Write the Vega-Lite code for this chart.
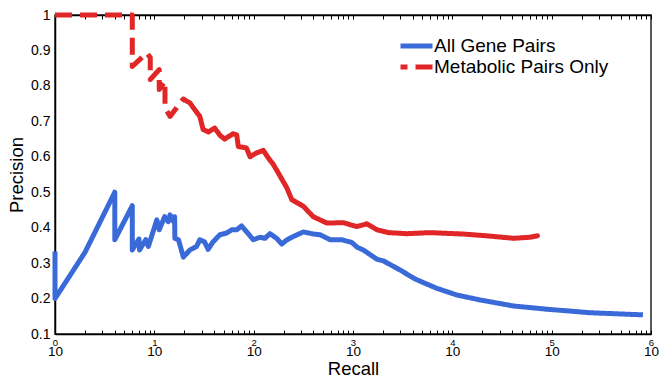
{
  "$schema": "https://vega.github.io/schema/vega-lite/v6.json",
  "autosize": "none",
  "width": 596,
  "height": 319,
  "padding": {"left": 55, "top": 15, "right": 9, "bottom": 43},
  "background": "white",
  "config": {
    "font": "Liberation Sans",
    "view": {"stroke": "#222", "strokeWidth": 1.5},
    "axis": {"labelFont": "Liberation Sans", "titleFont": "Liberation Sans", "labelColor": "#000", "titleColor": "#000", "domainColor": "#000", "tickColor": "#000", "titleFontWeight": "normal", "grid": false}
  },
  "data": {"values": [
    {"series": "All Gene Pairs", "i": 0, "recall": 1, "precision": 0.333},
    {"series": "All Gene Pairs", "i": 1, "recall": 1, "precision": 0.2},
    {"series": "All Gene Pairs", "i": 2, "recall": 2, "precision": 0.33},
    {"series": "All Gene Pairs", "i": 3, "recall": 4, "precision": 0.5},
    {"series": "All Gene Pairs", "i": 4, "recall": 4, "precision": 0.366},
    {"series": "All Gene Pairs", "i": 5, "recall": 6, "precision": 0.462},
    {"series": "All Gene Pairs", "i": 6, "recall": 6, "precision": 0.337},
    {"series": "All Gene Pairs", "i": 7, "recall": 7, "precision": 0.368},
    {"series": "All Gene Pairs", "i": 8, "recall": 7.1, "precision": 0.337},
    {"series": "All Gene Pairs", "i": 9, "recall": 8.2, "precision": 0.366},
    {"series": "All Gene Pairs", "i": 10, "recall": 8.7, "precision": 0.347},
    {"series": "All Gene Pairs", "i": 11, "recall": 10.6, "precision": 0.422},
    {"series": "All Gene Pairs", "i": 12, "recall": 11.2, "precision": 0.394},
    {"series": "All Gene Pairs", "i": 13, "recall": 12.7, "precision": 0.431},
    {"series": "All Gene Pairs", "i": 14, "recall": 13.8, "precision": 0.417},
    {"series": "All Gene Pairs", "i": 15, "recall": 14.4, "precision": 0.436},
    {"series": "All Gene Pairs", "i": 16, "recall": 15.6, "precision": 0.417},
    {"series": "All Gene Pairs", "i": 17, "recall": 16, "precision": 0.431},
    {"series": "All Gene Pairs", "i": 18, "recall": 16.1, "precision": 0.37},
    {"series": "All Gene Pairs", "i": 19, "recall": 17.5, "precision": 0.366},
    {"series": "All Gene Pairs", "i": 20, "recall": 19.6, "precision": 0.317},
    {"series": "All Gene Pairs", "i": 21, "recall": 22.8, "precision": 0.337},
    {"series": "All Gene Pairs", "i": 22, "recall": 26.6, "precision": 0.347},
    {"series": "All Gene Pairs", "i": 23, "recall": 28.7, "precision": 0.366},
    {"series": "All Gene Pairs", "i": 24, "recall": 32, "precision": 0.36},
    {"series": "All Gene Pairs", "i": 25, "recall": 34.8, "precision": 0.339},
    {"series": "All Gene Pairs", "i": 26, "recall": 39, "precision": 0.36},
    {"series": "All Gene Pairs", "i": 27, "recall": 45.7, "precision": 0.38},
    {"series": "All Gene Pairs", "i": 28, "recall": 53.5, "precision": 0.385},
    {"series": "All Gene Pairs", "i": 29, "recall": 60, "precision": 0.394},
    {"series": "All Gene Pairs", "i": 30, "recall": 67.5, "precision": 0.394},
    {"series": "All Gene Pairs", "i": 31, "recall": 75.5, "precision": 0.405},
    {"series": "All Gene Pairs", "i": 32, "recall": 84.5, "precision": 0.389},
    {"series": "All Gene Pairs", "i": 33, "recall": 99, "precision": 0.366},
    {"series": "All Gene Pairs", "i": 34, "recall": 116, "precision": 0.373},
    {"series": "All Gene Pairs", "i": 35, "recall": 130, "precision": 0.37},
    {"series": "All Gene Pairs", "i": 36, "recall": 146, "precision": 0.383},
    {"series": "All Gene Pairs", "i": 37, "recall": 170, "precision": 0.37},
    {"series": "All Gene Pairs", "i": 38, "recall": 192, "precision": 0.354},
    {"series": "All Gene Pairs", "i": 39, "recall": 215, "precision": 0.365},
    {"series": "All Gene Pairs", "i": 40, "recall": 242, "precision": 0.373},
    {"series": "All Gene Pairs", "i": 41, "recall": 317, "precision": 0.388},
    {"series": "All Gene Pairs", "i": 42, "recall": 400, "precision": 0.382},
    {"series": "All Gene Pairs", "i": 43, "recall": 467, "precision": 0.38},
    {"series": "All Gene Pairs", "i": 44, "recall": 588, "precision": 0.366},
    {"series": "All Gene Pairs", "i": 45, "recall": 773, "precision": 0.366},
    {"series": "All Gene Pairs", "i": 46, "recall": 975, "precision": 0.358},
    {"series": "All Gene Pairs", "i": 47, "recall": 1100, "precision": 0.345},
    {"series": "All Gene Pairs", "i": 48, "recall": 1270, "precision": 0.337},
    {"series": "All Gene Pairs", "i": 49, "recall": 1740, "precision": 0.311},
    {"series": "All Gene Pairs", "i": 50, "recall": 2030, "precision": 0.306},
    {"series": "All Gene Pairs", "i": 51, "recall": 2960, "precision": 0.281},
    {"series": "All Gene Pairs", "i": 52, "recall": 4230, "precision": 0.255},
    {"series": "All Gene Pairs", "i": 53, "recall": 6960, "precision": 0.229},
    {"series": "All Gene Pairs", "i": 54, "recall": 11100, "precision": 0.21},
    {"series": "All Gene Pairs", "i": 55, "recall": 19100, "precision": 0.196},
    {"series": "All Gene Pairs", "i": 56, "recall": 41300, "precision": 0.179},
    {"series": "All Gene Pairs", "i": 57, "recall": 89100, "precision": 0.17},
    {"series": "All Gene Pairs", "i": 58, "recall": 244000, "precision": 0.16},
    {"series": "All Gene Pairs", "i": 59, "recall": 830000, "precision": 0.154},
    {"series": "Metabolic Pairs Only", "i": 0, "recall": 1, "precision": 1},
    {"series": "Metabolic Pairs Only", "i": 1, "recall": 6, "precision": 1},
    {"series": "Metabolic Pairs Only", "i": 2, "recall": 6, "precision": 0.855},
    {"series": "Metabolic Pairs Only", "i": 3, "recall": 8.4, "precision": 0.893},
    {"series": "Metabolic Pairs Only", "i": 4, "recall": 9.1, "precision": 0.88},
    {"series": "Metabolic Pairs Only", "i": 5, "recall": 9.1, "precision": 0.818},
    {"series": "Metabolic Pairs Only", "i": 6, "recall": 11.2, "precision": 0.846},
    {"series": "Metabolic Pairs Only", "i": 7, "recall": 11.2, "precision": 0.79},
    {"series": "Metabolic Pairs Only", "i": 8, "recall": 12.8, "precision": 0.813},
    {"series": "Metabolic Pairs Only", "i": 9, "recall": 12.8, "precision": 0.738},
    {"series": "Metabolic Pairs Only", "i": 10, "recall": 14.4, "precision": 0.714},
    {"series": "Metabolic Pairs Only", "i": 11, "recall": 19.6, "precision": 0.763},
    {"series": "Metabolic Pairs Only", "i": 12, "recall": 22.8, "precision": 0.752},
    {"series": "Metabolic Pairs Only", "i": 13, "recall": 25.5, "precision": 0.733},
    {"series": "Metabolic Pairs Only", "i": 14, "recall": 28.7, "precision": 0.714},
    {"series": "Metabolic Pairs Only", "i": 15, "recall": 31, "precision": 0.677},
    {"series": "Metabolic Pairs Only", "i": 16, "recall": 35, "precision": 0.67},
    {"series": "Metabolic Pairs Only", "i": 17, "recall": 40.5, "precision": 0.681},
    {"series": "Metabolic Pairs Only", "i": 18, "recall": 46, "precision": 0.66},
    {"series": "Metabolic Pairs Only", "i": 19, "recall": 51, "precision": 0.65},
    {"series": "Metabolic Pairs Only", "i": 20, "recall": 62, "precision": 0.665},
    {"series": "Metabolic Pairs Only", "i": 21, "recall": 67.5, "precision": 0.662},
    {"series": "Metabolic Pairs Only", "i": 22, "recall": 70, "precision": 0.629},
    {"series": "Metabolic Pairs Only", "i": 23, "recall": 84.5, "precision": 0.625},
    {"series": "Metabolic Pairs Only", "i": 24, "recall": 92, "precision": 0.6},
    {"series": "Metabolic Pairs Only", "i": 25, "recall": 107, "precision": 0.611},
    {"series": "Metabolic Pairs Only", "i": 26, "recall": 125, "precision": 0.618},
    {"series": "Metabolic Pairs Only", "i": 27, "recall": 141, "precision": 0.596},
    {"series": "Metabolic Pairs Only", "i": 28, "recall": 158, "precision": 0.578},
    {"series": "Metabolic Pairs Only", "i": 29, "recall": 185, "precision": 0.545},
    {"series": "Metabolic Pairs Only", "i": 30, "recall": 216, "precision": 0.512},
    {"series": "Metabolic Pairs Only", "i": 31, "recall": 242, "precision": 0.479},
    {"series": "Metabolic Pairs Only", "i": 32, "recall": 317, "precision": 0.46},
    {"series": "Metabolic Pairs Only", "i": 33, "recall": 398, "precision": 0.431},
    {"series": "Metabolic Pairs Only", "i": 34, "recall": 546, "precision": 0.413},
    {"series": "Metabolic Pairs Only", "i": 35, "recall": 800, "precision": 0.414},
    {"series": "Metabolic Pairs Only", "i": 36, "recall": 1090, "precision": 0.403},
    {"series": "Metabolic Pairs Only", "i": 37, "recall": 1380, "precision": 0.411},
    {"series": "Metabolic Pairs Only", "i": 38, "recall": 1740, "precision": 0.394},
    {"series": "Metabolic Pairs Only", "i": 39, "recall": 2280, "precision": 0.386},
    {"series": "Metabolic Pairs Only", "i": 40, "recall": 3470, "precision": 0.383},
    {"series": "Metabolic Pairs Only", "i": 41, "recall": 5990, "precision": 0.386},
    {"series": "Metabolic Pairs Only", "i": 42, "recall": 12900, "precision": 0.382},
    {"series": "Metabolic Pairs Only", "i": 43, "recall": 22200, "precision": 0.377},
    {"series": "Metabolic Pairs Only", "i": 44, "recall": 41300, "precision": 0.37},
    {"series": "Metabolic Pairs Only", "i": 45, "recall": 60700, "precision": 0.373},
    {"series": "Metabolic Pairs Only", "i": 46, "recall": 71900, "precision": 0.377}
  ]},
  "encoding": {
    "y": {
      "field": "precision", "type": "quantitative",
      "scale": {"domain": [0.1, 1], "nice": false, "zero": false},
      "axis": {"title": "Precision", "values": [0.1,0.2,0.3,0.4,0.5,0.6,0.7,0.8,0.9,1], "labelExpr": "datum.value >= 0.999 ? '1' : format(datum.value, '.1f')", "ticks": false, "labelFontSize": 14, "titleFontSize": 18.5, "titlePadding": 4, "labelPadding": 5, "domainWidth": 1.5}
    },
    "color": {"field": "series", "type": "nominal",
      "scale": {"domain": ["All Gene Pairs", "Metabolic Pairs Only"], "range": ["#3a6ad8", "#e02626"]},
      "legend": {"title": null, "orient": "none", "legendX": 351, "legendY": 20.5, "symbolType": "M-2,0H2", "symbolSize": 256, "symbolStrokeWidth": 5, "symbolDashOffset": 10, "labelFontSize": 19, "labelFont": "Liberation Sans", "labelColor": "#000", "labelOffset": 7, "labelLimit": 0, "rowPadding": -4}},
    "strokeDash": {"field": "series", "type": "nominal",
      "scale": {"domain": ["All Gene Pairs", "Metabolic Pairs Only"], "range": [[1, 0], [17, 8]]}},
    "order": {"field": "i", "type": "quantitative"}
  },
  "layer": [
    {
      "transform": [{"filter": "datum.series == 'All Gene Pairs'"}],
      "mark": {"type": "line", "strokeWidth": 5, "strokeCap": "butt", "strokeJoin": "round"},
      "encoding": {
        "x": {
          "field": "recall", "type": "quantitative",
          "scale": {"type": "log", "domain": [1, 1000000], "nice": false},
          "axis": {"title": "Recall", "values": [1,2,3,4,5,6,7,8,9,10,20,30,40,50,60,70,80,90,100,200,300,400,500,600,700,800,900,1000,2000,3000,4000,5000,6000,7000,8000,9000,10000,20000,30000,40000,50000,60000,70000,80000,90000,100000,200000,300000,400000,500000,600000,700000,800000,900000,1000000],
            "labelExpr": "datum.value == 1 || datum.value == 10 || datum.value == 100 || datum.value == 1000 || datum.value == 10000 || datum.value == 100000 || datum.value == 1000000 ? '10' : ''",
            "labelOverlap": false, "labelFlush": false, "labelBound": false, "tickSize": -4, "labelPadding": 14, "labelFontSize": 13.5, "titleFontSize": 18.5, "titlePadding": 2, "domainWidth": 1.5}
        }
      }
    },
    {
      "transform": [{"filter": "datum.series == 'Metabolic Pairs Only' && datum.recall <= 19.6"}],
      "mark": {"type": "line", "strokeWidth": 5, "strokeCap": "butt", "strokeJoin": "round"},
      "encoding": {
        "x": {
          "field": "recall", "type": "quantitative",
          "scale": {"type": "log", "domain": [1, 1000000], "nice": false},
          "axis": {"orient": "bottom", "title": null, "values": [1,10,100,1000,10000,100000,1000000],
            "labelExpr": "datum.value == 1 ? '0' : datum.value == 10 ? '1' : datum.value == 100 ? '2' : datum.value == 1000 ? '3' : datum.value == 10000 ? '4' : datum.value == 100000 ? '5' : '6'",
            "labelOverlap": false, "labelFlush": false, "labelBound": false, "ticks": false, "tickSize": 0, "domain": false, "labelPadding": 3, "labelDx": 11, "labelFontSize": 9.5}
        }
      }
    },
    {
      "transform": [{"filter": "datum.series == 'Metabolic Pairs Only' && datum.recall >= 19.6"}],
      "mark": {"type": "line", "strokeWidth": 5, "strokeJoin": "round", "strokeCap": "round", "color": "#e02626", "strokeDash": [1, 0]},
      "encoding": {
        "x": {
          "field": "recall", "type": "quantitative",
          "scale": {"type": "log", "domain": [1, 1000000], "nice": false},
          "axis": {"orient": "top", "title": null, "labels": false, "values": [1,2,3,4,5,6,7,8,9,10,20,30,40,50,60,70,80,90,100,200,300,400,500,600,700,800,900,1000,2000,3000,4000,5000,6000,7000,8000,9000,10000,20000,30000,40000,50000,60000,70000,80000,90000,100000,200000,300000,400000,500000,600000,700000,800000,900000,1000000], "tickSize": -4, "domainWidth": 1.5}
        },
        "color": {"value": "#e02626"},
        "strokeDash": {"value": [1, 0]}
      }
    }
  ],
  "resolve": {"axis": {"x": "independent"}}
}
